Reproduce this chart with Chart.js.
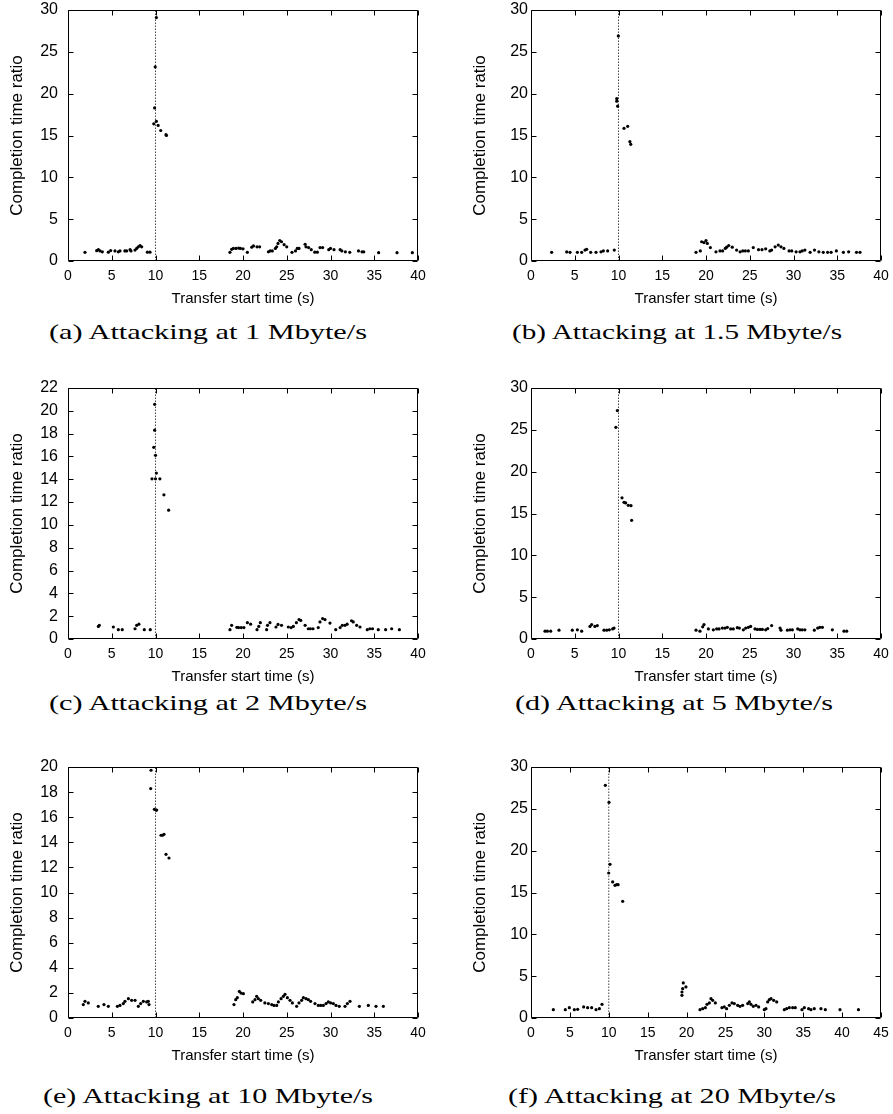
<!DOCTYPE html>
<html><head><meta charset="utf-8">
<script src="https://cdn.jsdelivr.net/npm/chart.js@4.4.1/dist/chart.umd.min.js"></script>
<style>
html,body{margin:0;padding:0;background:#fff;}
body{width:893px;height:1114px;position:relative;overflow:hidden;}
canvas{position:absolute;}
.cap{position:absolute;font-family:"Liberation Serif",serif;font-size:22px;white-space:nowrap;color:#000;line-height:1;transform-origin:center center;}
</style></head><body>
<script>
const attackStart = 10;
const xLabel = 'Transfer start time (s)';
const yLabel = 'Completion time ratio';
const captions = ['(a) Attacking at 1 Mbyte/s','(b) Attacking at 1.5 Mbyte/s','(c) Attacking at 2 Mbyte/s','(d) Attacking at 5 Mbyte/s','(e) Attacking at 10 Mbyte/s','(f) Attacking at 20 Mbyte/s'];
const xMaxes = [40,40,40,40,40,45];
const yMaxes = [30,30,22,30,20,30];
const yStepSizes = [5,5,2,5,2,5];
const xStep = 5;

const tA = [1.94,3.28,3.47,3.66,3.92,4.61,4.88,5.37,5.75,5.94,6.5,6.7,7.09,7.2,7.66,7.85,8.04,8.23,8.42,9.07,9.37,
  9.8,9.9,9.97,10.1,10.1,10.3,10.6,11.2,11.25,
  18.51,18.7,18.9,19.2,19.5,19.7,20.0,20.5,21.0,21.2,21.6,21.9,22.9,23.1,23.35,23.7,23.85,24.0,24.2,24.4,
  24.7,25.0,25.6,26.0,26.2,26.4,27.1,27.2,27.5,27.8,28.2,28.5,28.8,29.1,29.8,30.0,30.4,31.1,31.3,31.7,
  32.2,33.2,33.6,33.8,35.5,37.6,39.35];
const rA = [1.04,1.23,1.35,1.2,1.1,1.05,1.25,1.2,1.1,1.2,1.2,1.2,1.35,1.2,1.3,1.5,1.7,1.85,1.7,1.05,1.05,
  16.4,18.3,23.2,29.1,16.7,16.2,15.6,15.1,15.0,
  1.04,1.4,1.5,1.5,1.55,1.5,1.45,1.04,1.65,1.8,1.7,1.7,1.1,1.2,1.2,1.5,1.7,2.1,2.45,2.3,
  1.95,1.7,1.04,1.2,1.5,1.5,2.0,1.7,1.6,1.35,1.05,1.05,1.6,1.6,1.35,1.5,1.35,1.35,1.2,1.1,
  1.04,1.2,1.1,1.1,1.0,1.0,1.0];
const tB = [2.36,4.08,4.46,5.3,5.79,6.17,6.36,6.82,7.43,8.0,8.27,8.76,9.52,
  9.8,9.8,9.9,9.98,10.63,11.05,11.3,11.4,
  18.86,19.35,19.5,19.77,20.0,20.15,20.5,21.14,21.6,21.9,
  22.2,22.36,22.6,23.0,23.5,23.9,24.2,24.5,24.84,25.4,
  26.0,26.4,26.82,27.3,27.5,27.9,28.26,28.57,28.9,29.5,
  29.8,30.3,30.74,31.0,31.3,31.9,32.4,32.9,33.4,33.9,
  34.3,34.9,35.7,36.3,37.2,37.6];
const rB = [1.04,1.08,1.04,1.04,1.04,1.3,1.4,1.04,1.04,1.1,1.2,1.2,1.3,
  19.4,19.1,18.5,26.9,15.86,16.1,14.26,13.94,
  1.04,1.2,2.3,2.2,2.45,2.1,1.6,1.1,1.2,1.2,
  1.5,1.65,1.85,1.65,1.3,1.1,1.2,1.2,1.2,1.6,
  1.35,1.35,1.45,1.2,1.3,1.7,1.9,1.7,1.5,1.2,
  1.2,1.1,1.1,1.2,1.3,1.04,1.3,1.1,1.04,1.04,
  1.04,1.2,1.04,1.1,1.04,1.04];
const tC = [3.47,3.58,5.18,5.75,6.2,7.66,7.85,8.1,8.72,9.4,
  9.9,9.9,9.8,10.0,10.1,9.6,10.0,10.5,10.96,11.5,
  18.51,18.7,19.3,19.5,19.8,20.1,20.5,20.87,21.6,21.8,
  21.98,22.7,22.8,23.08,23.77,24.0,24.4,25.18,25.5,25.75,
  26.1,26.4,26.6,27.1,27.47,27.7,28.0,28.6,28.8,29.1,
  29.37,29.94,30.6,31.1,31.35,31.66,31.9,32.4,32.6,32.99,
  33.37,34.2,34.5,34.8,35.46,36.3,36.99,37.87];
const rC = [1.1,1.2,1.05,0.82,0.82,0.9,1.2,1.3,0.82,0.82,
  20.57,18.3,16.8,16.1,14.54,14.04,14.04,14.04,12.64,11.29,
  0.82,1.2,1.02,1.0,1.0,1.0,1.43,1.3,0.82,1.1,
  1.43,0.82,1.2,1.43,1.05,1.28,1.2,1.05,1.0,1.1,
  1.43,1.7,1.63,1.2,0.9,0.9,0.9,1.0,1.5,1.79,
  1.7,1.4,0.82,1.0,1.2,1.2,1.3,1.6,1.5,1.2,
  1.05,0.82,0.9,0.9,0.82,0.82,0.9,0.82];
const tD = [1.6,1.87,2.25,3.2,4.72,5.3,5.79,6.74,6.93,7.3,
  7.58,8.34,8.65,8.95,9.33,9.49,
  9.87,9.7,10.4,10.63,10.82,11.12,11.43,11.5,
  18.86,19.31,19.62,19.77,20.27,20.84,21.22,21.49,21.87,22.17,
  22.44,22.82,23.12,23.58,23.81,24.27,24.54,24.84,25.1,25.6,
  25.87,26.17,26.44,26.82,27.05,27.5,28.46,28.57,29.3,29.6,
  29.87,30.48,30.74,31.0,31.3,32.38,32.76,33.0,33.3,34.44,
  35.77,36.08];
const rD = [0.93,0.93,0.93,1.05,1.05,1.1,0.93,1.5,1.73,1.5,
  1.6,1.05,1.05,1.1,1.2,1.3,
  27.3,25.3,16.87,16.34,16.26,15.98,15.94,14.18,
  1.05,0.93,1.45,1.73,1.2,1.1,1.2,1.2,1.3,1.3,
  1.4,1.2,1.2,1.35,1.3,1.1,1.3,1.4,1.5,1.2,
  1.15,1.15,1.15,1.1,1.25,1.6,1.3,1.05,1.05,1.1,
  1.1,1.2,1.1,1.1,1.1,1.05,1.3,1.4,1.4,1.1,
  0.93,0.93];
const tE = [1.75,1.94,2.32,3.46,4.11,4.61,5.64,5.94,6.32,6.51,
  6.9,7.27,7.66,8.04,8.3,8.61,8.99,9.18,9.26,
  9.45,9.49,9.87,10.06,10.13,10.63,10.82,10.97,11.2,11.54,
  18.97,19.17,19.35,19.58,19.77,20.04,21.11,21.37,21.56,21.75,
  22.02,22.5,22.9,23.28,23.54,23.85,24.04,24.35,24.61,24.8,
  25.07,25.37,25.64,26.13,26.4,26.7,26.9,27.2,27.47,27.73,
  28.23,28.61,28.88,29.18,29.49,29.75,30.02,30.33,30.63,31.0,
  31.66,31.93,32.23,33.3,34.32,35.2,36.04];
const rE = [1.07,1.33,1.2,0.93,1.07,0.93,0.93,1.0,1.15,1.33,
  1.54,1.41,1.41,0.93,1.15,1.33,1.28,1.33,1.07,
  18.28,19.74,16.63,16.57,16.57,14.56,14.56,14.64,13.04,12.75,
  1.07,1.46,1.62,2.12,1.99,1.94,1.28,1.46,1.73,1.54,
  1.41,1.2,1.15,1.07,1.0,1.0,1.28,1.54,1.73,1.89,
  1.62,1.41,1.2,0.93,1.2,1.41,1.62,1.54,1.46,1.33,
  1.15,1.0,1.0,1.0,1.15,1.28,1.2,1.15,1.0,0.93,
  0.93,1.15,1.33,0.93,1.0,0.93,0.93];
const tF = [2.87,4.41,4.93,5.57,6.0,6.77,7.28,7.8,8.36,8.79,9.13,
  9.56,10.03,10.16,9.99,10.5,10.8,11.0,11.2,11.79,
  19.41,19.41,19.5,19.58,19.92,
  21.73,22.07,22.42,22.63,22.93,23.14,23.36,23.7,24.55,24.85,
  25.15,25.5,25.84,26.14,26.57,26.87,27.21,27.86,28.07,28.28,
  28.58,28.93,29.27,30.0,30.21,30.43,30.64,30.86,31.2,31.59,
  32.57,32.87,33.21,33.64,33.98,34.84,35.14,35.69,35.99,36.42,
  37.28,37.84,39.73,42.1];
const rF = [1.0,1.0,1.24,1.0,1.04,1.32,1.24,1.24,1.0,1.12,1.64,
  27.81,25.78,18.37,17.33,16.26,15.86,15.94,15.94,13.95,
  2.71,3.11,3.51,4.19,3.71,
  1.0,1.12,1.24,1.64,1.8,2.31,2.11,1.8,1.24,1.32,
  1.12,1.52,1.8,1.72,1.52,1.4,1.52,1.72,1.92,1.64,
  1.4,1.52,1.32,1.0,1.12,1.92,2.19,2.31,2.11,1.92,
  1.0,1.12,1.24,1.24,1.24,1.0,1.24,1.12,1.0,1.12,
  1.12,1.0,1.0,1.0];

const seriesT = [tA,tB,tC,tD,tE,tF];
const seriesR = [rA,rB,rC,rD,rE,rF];

const cols = [{left:0,width:446,plotL:68,plotR:418,yTitlePad:7,yTickPad:10},
              {left:446,width:447,plotL:531,plotR:881,yTitlePad:24,yTickPad:3}];
const rows = [{top:0,plotT:10,plotB:261,capY:332},
              {top:370,plotT:388,plotB:639,capY:703},
              {top:749,plotT:767,plotB:1018,capY:1096}];
const capX = [[208,677],[208,674],[208,672]];
const capW = [[318,330],[318,318],[330,328]];
const X_AXIS_H = 49;

Chart.defaults.color = '#000';
Chart.defaults.font.family = "'Liberation Sans', Arial, sans-serif";

const frame = {
  id:'frame',
  afterDraw(chart){
    const {ctx, chartArea:a, scales:{x,y}} = chart;
    ctx.save();
    ctx.strokeStyle='#000'; ctx.lineWidth=1;
    const L=Math.round(a.left)+0.5, R=Math.round(a.right)-0.5, T=Math.round(a.top)+0.5, B=Math.round(a.bottom)-0.5;
    ctx.beginPath();
    ctx.rect(L,T,R-L,B-T);
    x.ticks.forEach(t=>{const p=Math.round(x.getPixelForValue(t.value))+0.5; ctx.moveTo(p,B); ctx.lineTo(p,B-5); ctx.moveTo(p,T); ctx.lineTo(p,T+5);});
    y.ticks.forEach(t=>{const p=Math.round(y.getPixelForValue(t.value))+0.5; ctx.moveTo(L,p); ctx.lineTo(L+5,p); ctx.moveTo(R,p); ctx.lineTo(R-5,p);});
    ctx.stroke();
    ctx.restore();
  }
};

for (let i=0;i<6;i++){
  const col = cols[i%2], row = rows[Math.floor(i/2)];
  const cv = document.createElement('canvas');
  const h = row.plotB + X_AXIS_H - row.top;
  cv.width = col.width; cv.height = h;
  cv.style.left = col.left+'px'; cv.style.top = row.top+'px';
  cv.style.width = col.width+'px'; cv.style.height = h+'px';
  document.body.appendChild(cv);
  const pts = seriesT[i].map((t,k)=>({x:t,y:seriesR[i][k]}));
  const want = {left:col.plotL-col.left, right:col.plotR-col.left, top:row.plotT-row.top, bottom:row.plotB-row.top};
  const ch = new Chart(cv, {
    type:'scatter',
    data:{datasets:[
      {type:'line', data:[{x:attackStart,y:0},{x:attackStart,y:yMaxes[i]}], borderColor:'#444', borderWidth:1, borderDash:[1.5,1.5], pointRadius:0, fill:false, order:2},
      {data:pts, pointRadius:1.6, pointBackgroundColor:'#000', pointBorderWidth:0, pointBorderColor:'#000', showLine:false, order:1}
    ]},
    options:{
      responsive:false, animation:false, devicePixelRatio:1,
      layout:{padding:{top:want.top, right:col.width-want.right, left:0, bottom:0}},
      plugins:{legend:{display:false}, tooltip:{enabled:false}},
      scales:{
        x:{type:'linear', min:0, max:xMaxes[i],
           grid:{display:false, drawTicks:false}, border:{display:false},
           ticks:{stepSize:xStep, font:{size:14}, padding:7, maxRotation:0, autoSkip:false},
           title:{display:true, text:xLabel, font:{size:15}, padding:{top:0,bottom:2}},
           afterFit(s){ s.height = X_AXIS_H; s.paddingLeft = 0; s.paddingRight = 0; }},
        y:{type:'linear', min:0, max:yMaxes[i],
           grid:{display:false, drawTicks:false}, border:{display:false},
           ticks:{stepSize:yStepSizes[i], font:{size:16}, padding:col.yTickPad, autoSkip:false},
           title:{display:true, text:yLabel, font:{size:17}, padding:{top:col.yTitlePad,bottom:0}},
           afterFit(s){ s.width = want.left; s.paddingTop = 0; s.paddingBottom = 0; }}
      }
    },
    plugins:[frame]
  });
  const cap = document.createElement('div');
  cap.className='cap';
  cap.textContent = captions[i];
  document.body.appendChild(cap);
  const w = cap.getBoundingClientRect().width;
  const k = capW[Math.floor(i/2)][i%2] / w;
  cap.style.left = capX[Math.floor(i/2)][i%2]+'px';
  cap.style.top = row.capY+'px';
  cap.style.transform = 'translate(-50%,-50%) scaleX('+k.toFixed(3)+')';
}
</script>
</body></html>
